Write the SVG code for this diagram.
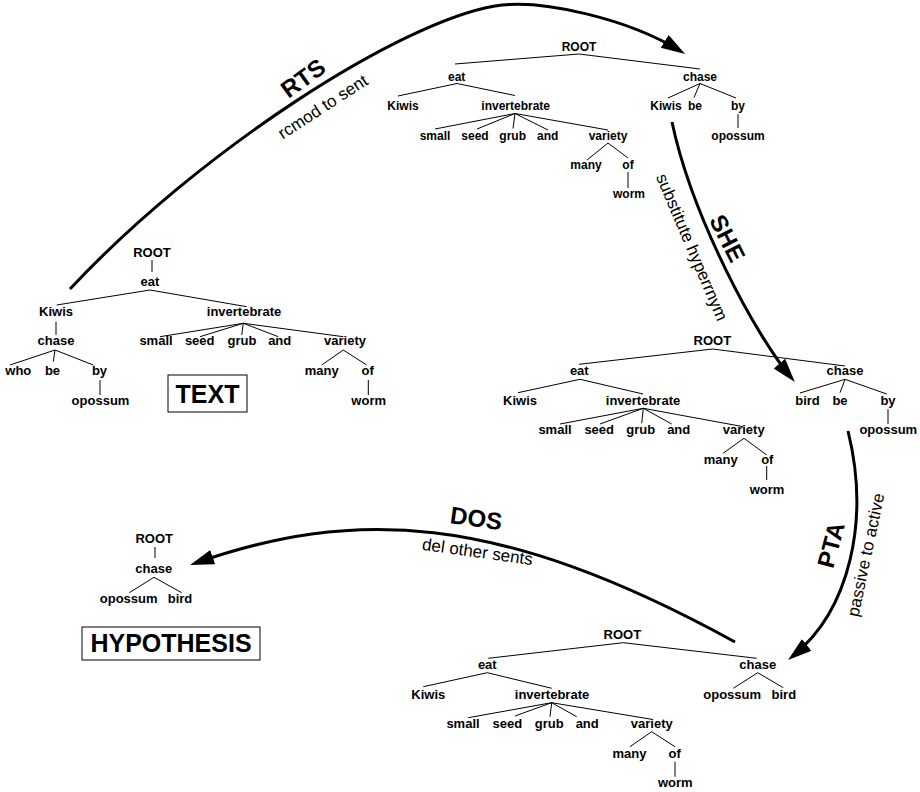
<svg xmlns="http://www.w3.org/2000/svg" width="920" height="792" viewBox="0 0 920 792">
<style>
text{font-family:"Liberation Sans",Arial,Helvetica,sans-serif;fill:#000}
.n{font-size:13px;font-weight:bold;text-anchor:middle}
.ns{font-size:12px;font-weight:bold;text-anchor:middle}
.e{fill:none;stroke:#000;stroke-width:1}
.arr{fill:none;stroke:#000;stroke-width:3;marker-end:url(#ah)}
.big{font-size:24px;font-weight:bold;text-anchor:middle}
.lab{font-size:17px;text-anchor:middle}
.box{fill:#fff;stroke:#000;stroke-width:1}
.boxt{font-size:25px;font-weight:bold;text-anchor:middle}
</style>
<defs>
<marker id="ah" markerUnits="userSpaceOnUse" markerWidth="26" markerHeight="16" refX="18" refY="7.5" orient="auto">
<path d="M0,0 L24,7.5 L0,15 z" fill="#000"/>
</marker>
</defs>
<rect width="920" height="792" fill="#fff"/>

<g id="tree-text">
<path class="e" d="M152,260 L152,272 M150,290 L56.7,305 M150,290 L246.7,306.7 M56,321.7 L56,335 M55,350 L10,365 M55,350 L53.3,361.7 M55,350 L93.3,365 M243.3,323.3 L160,336.7 M243.3,323.3 L200,336.7 M243.3,323.3 L241.7,335 M243.3,323.3 L278.3,336.7 M243.3,323.3 L343.3,336.7 M343.3,350 L321.7,365 M343.3,350 L366.7,365 M100,380 L100,395 M368.3,380 L368.3,395"/>
<text class="n" x="152" y="256.7">ROOT</text>
<text class="n" x="150" y="286">eat</text>
<text class="n" x="56" y="316">Kiwis</text>
<text class="n" x="244" y="316">invertebrate</text>
<text class="n" x="56" y="345.3">chase</text>
<text class="n" x="156" y="345">small</text>
<text class="n" x="199.7" y="345">seed</text>
<text class="n" x="242" y="345">grub</text>
<text class="n" x="279.7" y="345">and</text>
<text class="n" x="345" y="345">variety</text>
<text class="n" x="18.3" y="375">who</text>
<text class="n" x="52.5" y="375">be</text>
<text class="n" x="99.5" y="375">by</text>
<text class="n" x="321.7" y="375">many</text>
<text class="n" x="367.7" y="375">of</text>
<text class="n" x="100.5" y="405">opossum</text>
<text class="n" x="368.7" y="405">worm</text>
</g>

<g id="label-text">
<rect class="box" x="168" y="375" width="79" height="37"/>
<text class="boxt" x="207.5" y="403">TEXT</text>
</g>

<g id="tree-rts">
<path class="e" d="M579,54 L455,64 M579,54 L700,69 M457,83.5 L398,96 M457,83.5 L515,95.5 M700,83.5 L668,98 M700,83.5 L694,97.5 M700,83.5 L736,98 M515,113.5 L435,129 M515,113.5 L477,129 M515,113.5 L513,128.5 M515,113.5 L548,130 M515,113.5 L608,130 M608,143 L587,160 M608,143 L628,158 M628,172 L628,188 M738,114 L738,128"/>
<text class="ns" x="579" y="50.7">ROOT</text>
<text class="ns" x="456.7" y="80.7">eat</text>
<text class="ns" x="700" y="80.7">chase</text>
<text class="ns" x="403" y="110">Kiwis</text>
<text class="ns" x="515.7" y="110">invertebrate</text>
<text class="ns" x="666" y="110">Kiwis</text>
<text class="ns" x="695" y="110">be</text>
<text class="ns" x="738" y="110">by</text>
<text class="ns" x="435" y="140">small</text>
<text class="ns" x="475" y="140">seed</text>
<text class="ns" x="512.7" y="140">grub</text>
<text class="ns" x="547.7" y="140">and</text>
<text class="ns" x="608" y="140">variety</text>
<text class="ns" x="738" y="140">opossum</text>
<text class="ns" x="586" y="169">many</text>
<text class="ns" x="628" y="169">of</text>
<text class="ns" x="629" y="198">worm</text>
</g>

<g id="tree-she">
<path class="e" d="M712.7,349 L579,364.3 M712.7,349 L845,366 M580,379.3 L518,392.7 M580,379.3 L643,394 M845,379.3 L800,393 M845,379.3 L840,392.7 M845,379.3 L886.7,394 M643.3,408.3 L560,424 M643.3,408.3 L600,424 M643.3,408.3 L641.7,423.3 M643.3,408.3 L671.7,424 M643.3,408.3 L743.3,426.7 M744,438.3 L723,453.3 M744,438.3 L766.7,455 M766.7,466 L766.7,480 M888,409 L888,424"/>
<text class="n" x="712.3" y="345">ROOT</text>
<text class="n" x="579.3" y="375">eat</text>
<text class="n" x="845" y="375">chase</text>
<text class="n" x="520" y="405">Kiwis</text>
<text class="n" x="643" y="405">invertebrate</text>
<text class="n" x="807.5" y="405">bird</text>
<text class="n" x="840" y="405">be</text>
<text class="n" x="888" y="405">by</text>
<text class="n" x="555" y="434">small</text>
<text class="n" x="599.2" y="434">seed</text>
<text class="n" x="640.8" y="434">grub</text>
<text class="n" x="678.7" y="434">and</text>
<text class="n" x="743.7" y="434">variety</text>
<text class="n" x="888.3" y="434">opossum</text>
<text class="n" x="720.7" y="464">many</text>
<text class="n" x="767.3" y="464">of</text>
<text class="n" x="767" y="494">worm</text>
</g>

<g id="tree-pta">
<path class="e" d="M623.3,642.7 L488.3,658.3 M623.3,642.7 L756.7,658.3 M487.3,672.7 L423.3,686.7 M487.3,672.7 L551.7,688.3 M757.7,672.7 L733.3,688.3 M757.7,672.7 L783.3,687.7 M551.7,702.7 L468.3,717.7 M551.7,702.7 L515,716 M551.7,702.7 L550,716.7 M551.7,702.7 L576.7,716.7 M551.7,702.7 L651.7,719.3 M651.7,731.7 L630,746.7 M651.7,731.7 L675,746.7 M675,761.7 L675,776.7"/>
<text class="n" x="622.3" y="639">ROOT</text>
<text class="n" x="487.3" y="669">eat</text>
<text class="n" x="757.7" y="669">chase</text>
<text class="n" x="428.3" y="699">Kiwis</text>
<text class="n" x="552" y="699">invertebrate</text>
<text class="n" x="732.2" y="699">opossum</text>
<text class="n" x="783.8" y="699">bird</text>
<text class="n" x="463" y="728.3">small</text>
<text class="n" x="507.3" y="728.3">seed</text>
<text class="n" x="549.2" y="728.3">grub</text>
<text class="n" x="587.2" y="728.3">and</text>
<text class="n" x="651.8" y="728.3">variety</text>
<text class="n" x="629.5" y="758.3">many</text>
<text class="n" x="674.7" y="758.3">of</text>
<text class="n" x="675.3" y="786.7">worm</text>
</g>

<g id="tree-hyp">
<path class="e" d="M155,547 L155,558 M154,577.3 L129.3,592.7 M154,577.3 L181.7,592.7"/>
<text class="n" x="154.2" y="543.3">ROOT</text>
<text class="n" x="153.8" y="573.3">chase</text>
<text class="n" x="128.7" y="602.7">opossum</text>
<text class="n" x="180" y="602.7">bird</text>
</g>

<g id="label-hyp">
<rect class="box" x="82" y="627" width="178" height="33"/>
<text class="boxt" x="171" y="652">HYPOTHESIS</text>
</g>

<g id="connectors">
<path class="arr" d="M70,289 C200,150 400,22 495,6 C542,-2 630,20 680,50.8"/>
<path class="arr" d="M672,122 C692,217 756,336 791,377.4"/>
<path class="arr" d="M848,431 C870,520 850,610 792.7,656.2"/>
<path class="arr" d="M735,642 C495,510 351,509 195.7,563"/>
<text class="big" transform="translate(308,85) rotate(-36)">RTS</text>
<text class="lab" transform="translate(326,111.6) rotate(-33)">rcmod to sent</text>
<text class="big" transform="translate(720,242) rotate(63)">SHE</text>
<text class="lab" transform="translate(686.6,249.4) rotate(67)">substitute hyperrnym</text>
<text class="big" transform="translate(839,547) rotate(-75)">PTA</text>
<text class="lab" transform="translate(871.4,556) rotate(-78)">passive to active</text>
<text class="big" transform="translate(475,526.5) rotate(8)">DOS</text>
<text class="lab" transform="translate(476.7,557.4) rotate(8)">del other sents</text>
</g>
</svg>
